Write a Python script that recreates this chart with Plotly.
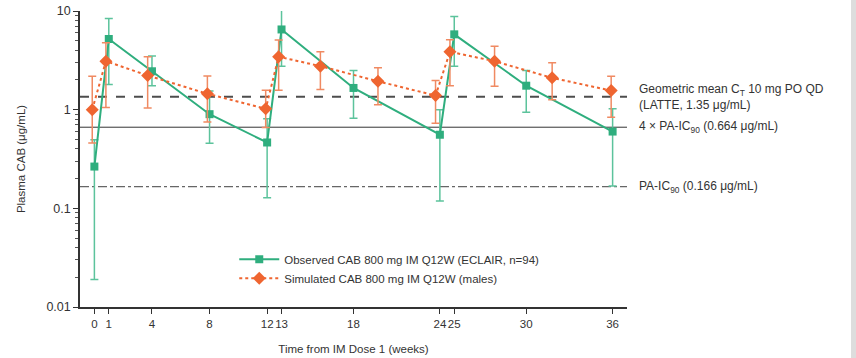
import math
import plotly.graph_objects as go

# Observed CAB 800 mg IM Q12W (ECLAIR, n=94)
obs_weeks = [0, 1, 4, 8, 12, 13, 18, 24, 25, 30, 36]
obs_conc = [0.265, 5.2, 2.45, 0.90, 0.465, 6.5, 1.66, 0.557, 5.8, 1.75, 0.60]
obs_upper = [0.495, 8.4, 3.5, 1.55, 0.81, 10.2, 2.49, 1.0, 8.8, 2.49, 1.02]
obs_lower = [0.019, 1.8, 1.75, 0.458, 0.128, 2.76, 0.82, 0.119, 2.76, 0.94, 0.168]

# Simulated CAB 800 mg IM Q12W (males)
sim_weeks = [-0.15, 0.8, 3.7, 7.85, 11.9, 12.8, 15.7, 19.7, 23.7, 24.7, 27.8, 31.8, 35.9]
sim_conc = [1.0, 3.1, 2.22, 1.45, 1.02, 3.44, 2.76, 1.94, 1.39, 3.86, 3.1, 2.1, 1.56]
sim_upper = [2.18, 4.77, 3.44, 2.2, 1.57, 5.07, 3.86, 2.66, 1.97, 5.1, 4.4, 2.99, 2.18]
sim_lower = [0.46, 1.05, 1.04, 0.75, 0.66, 1.57, 1.6, 1.12, 0.73, 1.75, 1.73, 1.26, 0.84]

x_ticks = [0, 1, 4, 8, 12, 13, 18, 24, 25, 30, 36]
y_ticks = [0.01, 0.1, 1, 10]
y_tick_labels = ["0.01", "0.1", "1", "10"]

ref_values = [1.35, 0.664, 0.166]
ref_labels = [
    "Geometric mean C<sub>T</sub> 10 mg PO QD<br>(LATTE, 1.35 μg/mL)",
    "4 × PA-IC<sub>90</sub> (0.664 μg/mL)",
    "PA-IC<sub>90</sub> (0.166 μg/mL)",
]

GREEN = "#2fae7e"
ORANGE = "#ef6530"
FONT = "Liberation Sans, Arial, sans-serif"

fig = go.Figure()

fig.add_trace(go.Scatter(
    x=obs_weeks, y=obs_conc, mode="lines+markers",
    name="Observed CAB 800 mg IM Q12W (ECLAIR, n=94)",
    line=dict(color=GREEN, width=2),
    marker=dict(symbol="square", size=8, color=GREEN),
    error_y=dict(type="data", symmetric=False,
                 array=[u - c for u, c in zip(obs_upper, obs_conc)],
                 arrayminus=[c - l for c, l in zip(obs_conc, obs_lower)],
                 color="#5cc39c", thickness=1.5, width=4),
))

fig.add_trace(go.Scatter(
    x=sim_weeks, y=sim_conc, mode="lines+markers",
    name="Simulated CAB 800 mg IM Q12W (males)",
    line=dict(color=ORANGE, width=2, dash="3px,3px"),
    marker=dict(symbol="diamond", size=10, color=ORANGE),
    error_y=dict(type="data", symmetric=False,
                 array=[u - c for u, c in zip(sim_upper, sim_conc)],
                 arrayminus=[c - l for c, l in zip(sim_conc, sim_lower)],
                 color="#f08a62", thickness=1.5, width=4),
))

dashes = ["dash", "solid", "dashdot"]
colors = ["#4d4d4d", "#333333", "#666666"]
widths = [2, 1, 1.2]
for v, d, c, w, lab in zip(ref_values, dashes, colors, widths, ref_labels):
    fig.add_shape(type="line", xref="paper", x0=0, x1=1, yref="y", y0=v, y1=v,
                  line=dict(color=c, width=w, dash=d), layer="below")
    fig.add_annotation(xref="paper", x=1, xshift=10, yref="y", y=math.log10(v),
                       text=lab, showarrow=False, xanchor="left", yanchor="middle",
                       align="left", font=dict(family=FONT, size=12, color="#333333"))

# faint page-edge shadow on the right
fig.add_shape(type="rect", xref="paper", yref="paper",
              x0=(851 - 80) / 547, x1=(856 - 80) / 547, y0=-0.2, y1=1.1,
              fillcolor="#dddddd", line=dict(width=0), layer="above")

fig.update_layout(
    width=856, height=358,
    margin=dict(l=80, r=229, t=11, b=51),
    paper_bgcolor="white", plot_bgcolor="white",
    font=dict(family=FONT, size=12, color="#333333"),
    showlegend=True,
    legend=dict(x=0.282, y=0.21, xanchor="left", yanchor="top",
                bgcolor="rgba(0,0,0,0)", font=dict(size=11.5, color="#333333"),
                tracegroupgap=0, itemwidth=40),
    xaxis=dict(range=[-1, 37], tickvals=x_ticks, ticktext=[str(t) for t in x_ticks],
               tickangle=0, automargin=False,
               showgrid=False, zeroline=False, showline=True, linecolor="#333333",
               linewidth=1.5, ticks="outside", ticklen=5, tickcolor="#333333",
               tickfont=dict(size=11.5),
               title=dict(text="Time from IM Dose 1 (weeks)", font=dict(size=11.5), standoff=16)),
    yaxis=dict(type="log", range=[-2, 1], tickvals=y_ticks, ticktext=y_tick_labels,
               automargin=False,
               showgrid=False, zeroline=False, showline=True, linecolor="#333333",
               linewidth=1.5, ticks="outside", ticklen=5, tickcolor="#333333",
               tickfont=dict(size=12.5),
               minor=dict(ticks="outside", ticklen=3, tickcolor="#555555", dtick="D1", showgrid=False),
               title=dict(text="Plasma CAB (μg/mL)", font=dict(size=11.5), standoff=18)),
)

fig.write_html("out.html")
